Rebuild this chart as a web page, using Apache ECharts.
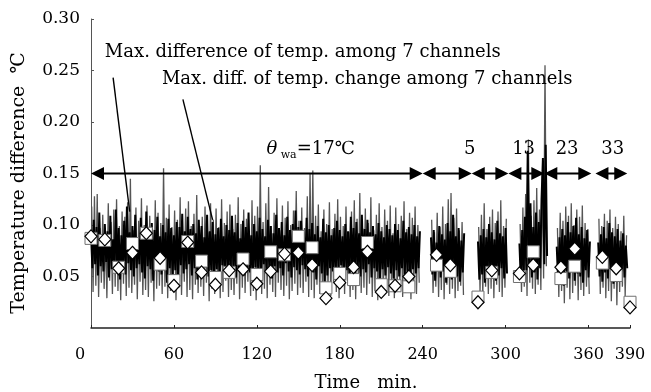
<!DOCTYPE html>
<html><head><meta charset="utf-8">
<script src="https://cdn.jsdelivr.net/npm/echarts@6/dist/echarts.min.js"></script>
<style>html,body{margin:0;padding:0;background:#fff}#c{width:651px;height:392px}</style>
</head><body><div id="c"></div>
<script>
const xTicks=[0,60,120,180,240,300,360,390];
const segStarts=[0,246,280,310,337,367];
// Max. difference of temp. among 7 channels (black), 1 value per minute from segment start
const blackA=[
.092,.058,.105,.062,.098,.051,.112,.060,.088,.055,
.101,.064,.094,.049,.109,.057,.086,.061,.115,.053,
.097,.047,.090,.059,.104,.052,.118,.063,.093,.056,
.099,.050,.110,.058,.087,.062,.107,.054,.096,.048,
.113,.060,.091,.057,.102,.046,.095,.063,.108,.055,
.089,.052,.100,.059,.093,.044,.106,.058,.097,.050,
.090,.056,.103,.049,.098,.061,.111,.053,.094,.057,
.108,.062,.096,.051,.101,.058,.092,.047,.105,.060,
.099,.054,.088,.059,.110,.050,.094,.056,.103,.048,
.091,.057,.097,.045,.106,.061,.089,.053,.100,.058,
.095,.052,.109,.060,.093,.049,.102,.056,.087,.062,
.104,.051,.098,.058,.112,.054,.090,.047,.101,.059,
.094,.055,.107,.050,.096,.062,.089,.053,.105,.057,
.099,.048,.092,.060,.110,.054,.097,.058,.103,.051,
.090,.063,.108,.055,.095,.049,.101,.059,.114,.056,
.098,.052,.104,.061,.093,.057,.107,.050,.096,.058,
.102,.054,.091,.047,.099,.060,.088,.053,.106,.045,
.093,.051,.100,.058,.090,.055,.097,.049,.104,.057,
.095,.061,.089,.052,.101,.056,.094,.048,.108,.059,
.097,.053,.103,.060,.092,.050,.110,.057,.096,.054,
.105,.062,.093,.049,.099,.058,.091,.055,.102,.046,
.094,.057,.088,.051,.100,.059,.096,.053,.090,.048,
.101,.056,.095,.050,.087,.058,.104,.052,.093,.055,
.098,.049,.091,.057,.100,.053,.089,.058,.094];
const blackB=[.088,.052,.095,.046,.083,.058,.099,.049,.091,.055,.086,.044,.102,.053,.094,.047,.110,.056,.089,.050,.097,.045,.085,.054,.092];
const blackC=[.084,.047,.090,.052,.096,.044,.088,.055,.101,.049,.093,.057,.086,.046,.104,.051,.092,.058,.089,.048,.097,.053];
const blackD=[.082,.046,.095,.051,.108,.056,.172,.060,.121,.049,.098,.054,.112,.047,.103,.058,.125,.165,.062,.178,.070];
const blackE=[.079,.045,.088,.052,.096,.041,.090,.055,.103,.048,.093,.057,.099,.046,.107,.053,.091,.050,.098,.044,.087,.056,.095,.049,.084];
const blackF=[.083,.050,.091,.045,.098,.054,.087,.048,.102,.057,.093,.043,.089,.052,.096,.046,.085,.055,.092,.049,.080,.058];
// Max. diff. of temp. change among 7 channels (grey), 1 value per minute, half a minute after segment start
const grayA=[
.118,.035,.128,.041,.130,.030,.097,.044,.110,.038,
.092,.029,.121,.046,.103,.033,.115,.040,.125,.036,
.099,.027,.113,.043,.108,.031,.122,.039,.145,.034,
.095,.042,.117,.028,.104,.045,.126,.032,.100,.037,
.119,.030,.109,.044,.096,.026,.124,.038,.112,.041,
.102,.033,.155,.040,.107,.029,.120,.036,.098,.043,
.114,.027,.105,.039,.127,.032,.094,.045,.116,.030,
.123,.037,.099,.028,.111,.042,.129,.034,.097,.040,
.108,.031,.118,.044,.093,.026,.121,.038,.105,.033,
.116,.041,.098,.029,.125,.035,.102,.046,.113,.030,
.120,.037,.096,.032,.110,.043,.127,.028,.101,.039,
.115,.034,.106,.045,.092,.031,.124,.036,.109,.027,
.118,.040,.158,.033,.103,.038,.121,.029,.137,.042,
.099,.035,.112,.030,.126,.044,.095,.037,.119,.031,
.107,.041,.123,.028,.100,.036,.114,.043,.133,.032,
.104,.039,.117,.034,.097,.045,.128,.030,.150,.037,
.153,.029,.109,.042,.120,.033,.094,.040,.115,.026,
.101,.038,.122,.031,.096,.044,.111,.035,.125,.029,
.108,.040,.099,.033,.118,.046,.093,.030,.113,.037,
.124,.028,.106,.041,.131,.034,.097,.039,.116,.032,
.102,.043,.127,.030,.095,.036,.110,.027,.121,.040,
.098,.033,.115,.045,.104,.031,.119,.038,.092,.029,
.117,.036,.101,.042,.109,.030,.123,.034,.096,.041,
.112,.028,.107,.039,.118,.033,.100,.044];
const grayB=[.105,.034,.093,.040,.112,.030,.098,.037,.118,.028,.101,.042,.125,.033,.131,.038,.107,.029,.116,.036,.095,.041,.103,.032];
const grayC=[.098,.036,.110,.031,.121,.040,.096,.033,.108,.038,.115,.029,.102,.042,.113,.035,.124,.030,.099,.039,.106];
const grayD=[.101,.035,.117,.040,.130,.031,.183,.044,.109,.038,.124,.033,.136,.042,.115,.037,.150,.048,.255,.060];
const grayE=[.097,.030,.112,.036,.104,.024,.118,.039,.109,.028,.121,.034,.100,.041,.115,.027,.108,.037,.119,.031,.102,.040,.096,.033];
const grayF=[.106,.033,.099,.039,.111,.029,.104,.036,.115,.026,.097,.038,.108,.022,.101,.035,.094,.040,.109,.031,.090];
// 10-minute markers
const markerX=[0,10,20,30,40,50,60,70,80,90,100,110,120,130,140,150,160,170,180,190,200,210,220,230,250,260,280,290,310,320,340,350,370,380,390];
const squareVals=[.087,.085,.059,.082,.092,.062,.046,.084,.065,.049,.054,.067,.052,.074,.071,.089,.078,.039,.053,.047,.083,.042,.041,.040,.061,.055,.030,.054,.050,.074,.048,.060,.063,.051,.025];
const diamondVals=[.089,.086,.058,.073,.092,.068,.041,.083,.054,.042,.056,.057,.043,.055,.072,.073,.061,.029,.044,.059,.074,.035,.041,.050,.071,.061,.025,.056,.053,.061,.059,.077,.069,.058,.020];
// annotation arrows (minutes) at the 0.15 level
const arrowLevel=0.15;
const arrowSegs=[[0,240],[240,275.5],[275.5,302],[302,328],[328,362],[365,388]];

const FONT='"DejaVu Serif", "Liberation Serif", serif';
const chart=echarts.init(document.getElementById('c'),null,{renderer:'canvas'});
const blackSegs=[blackA,blackB,blackC,blackD,blackE,blackF];
const graySegs=[grayA,grayB,grayC,grayD,grayE,grayF];
const series=[];
graySegs.forEach((vals,k)=>{
  series.push({type:'line',silent:true,symbol:'none',animation:false,z:2,
    lineStyle:{color:'#555',width:1.3},
    data:vals.map((v,i)=>[segStarts[k]+i+0.5,v])});
});
blackSegs.forEach((vals,k)=>{
  series.push({type:'line',silent:true,symbol:'none',animation:false,z:3,
    lineStyle:{color:'#000',width:2},
    data:vals.map((v,i)=>[segStarts[k]+i,v])});
});
series.push({type:'scatter',symbol:'rect',symbolSize:12,z:10,animation:false,silent:true,
  itemStyle:{color:'#ffffff',borderColor:'#707070',borderWidth:1,opacity:1},
  data:markerX.map((x,i)=>[x,squareVals[i]])});
series.push({type:'scatter',symbol:'diamond',symbolSize:[12,13],z:11,animation:false,silent:true,
  itemStyle:{color:'#ffffff',borderColor:'#000',borderWidth:1.2,opacity:1},
  data:markerX.map((x,i)=>[x,diamondVals[i]])});

chart.setOption({
  animation:false,
  backgroundColor:'#fff',
  grid:{left:91,right:21,top:19,bottom:64,containLabel:false},
  xAxis:{type:'value',min:0,max:390,
    axisLine:{lineStyle:{color:'#222',width:1.5}},
    axisTick:{inside:true,length:3,lineStyle:{color:'#222'},customValues:xTicks},
    splitLine:{show:false},
    axisLabel:{customValues:xTicks,color:'#000',fontFamily:FONT,fontSize:16,margin:19,
      formatter:v=>v===0?'{z|0}':String(v),
      rich:{z:{padding:[0,22,0,0],fontFamily:FONT,fontSize:16,color:'#000'}}}},
  yAxis:{type:'value',min:0,max:0.3,interval:0.05,
    axisLine:{show:true,lineStyle:{color:'#555',width:1}},
    axisTick:{show:true,inside:true,length:3,lineStyle:{color:'#555'}},
    splitLine:{show:false},
    axisLabel:{color:'#000',fontFamily:FONT,fontSize:17,margin:11,
      formatter:v=>v===0?'':v.toFixed(2)}},
  series:series
});

function P(x,y){return chart.convertToPixel({seriesIndex:0},[x,y]);}
const g=[];
arrowSegs.forEach(s=>{
  const a=P(s[0],arrowLevel), b=P(s[1],arrowLevel);
  g.push({type:'line',z:100,shape:{x1:a[0]+6,y1:a[1],x2:b[0]-6,y2:b[1]},style:{stroke:'#000',lineWidth:2}});
  g.push({type:'polygon',z:101,shape:{points:[[a[0],a[1]],[a[0]+13,a[1]-6.5],[a[0]+13,a[1]+6.5]]},style:{fill:'#000'}});
  g.push({type:'polygon',z:101,shape:{points:[[b[0],b[1]],[b[0]-13,b[1]-6.5],[b[0]-13,b[1]+6.5]]},style:{fill:'#000'}});
});
[[[16,0.243],[28,0.113]],[[66.5,0.222],[88,0.105]]].forEach(l=>{
  const a=P(l[0][0],l[0][1]), b=P(l[1][0],l[1][1]);
  g.push({type:'line',z:100,shape:{x1:a[0],y1:a[1],x2:b[0],y2:b[1]},style:{stroke:'#000',lineWidth:1.4}});
});
function txt(x,y,text,align,size){
  const p=P(x,y);
  g.push({type:'text',z:102,x:p[0],y:p[1],style:{text:text,fill:'#000',font:(size||17)+'px '+FONT,textAlign:align||'left',textVerticalAlign:'middle'}});
}
txt(10,0.268,'Max. difference of temp. among 7 channels','left',18);
txt(51.3,0.241,'Max. diff. of temp. change among 7 channels','left',18);
txt(274,0.173,'5','center',18);
txt(313,0.173,'13','center',18);
txt(344.5,0.173,'23','center',18);
txt(377.5,0.173,'33','center',18);
(function(){
  const p=P(127,0.173);
  g.push({type:'text',z:102,x:p[0],y:p[1],style:{
    text:'{i|θ} {s|wa}{n|=17℃}',textAlign:'left',textVerticalAlign:'middle',fill:'#000',
    rich:{i:{font:'italic 18px '+FONT,fill:'#000',lineHeight:22,verticalAlign:'middle'},
          s:{font:'11px '+FONT,fill:'#000',lineHeight:22,verticalAlign:'bottom'},
          n:{font:'18px '+FONT,fill:'#000',lineHeight:22,verticalAlign:'middle'}}}});
})();
g.push({type:'text',z:102,x:19,y:183,rotation:Math.PI/2,style:{text:'Temperature difference  ℃',fill:'#000',font:'19px '+FONT,textAlign:'center',textVerticalAlign:'middle'}});
g.push({type:'text',z:102,x:366,y:383,style:{text:'Time   min.',fill:'#000',font:'18px '+FONT,textAlign:'center',textVerticalAlign:'middle'}});
chart.setOption({graphic:g});
</script></body></html>
